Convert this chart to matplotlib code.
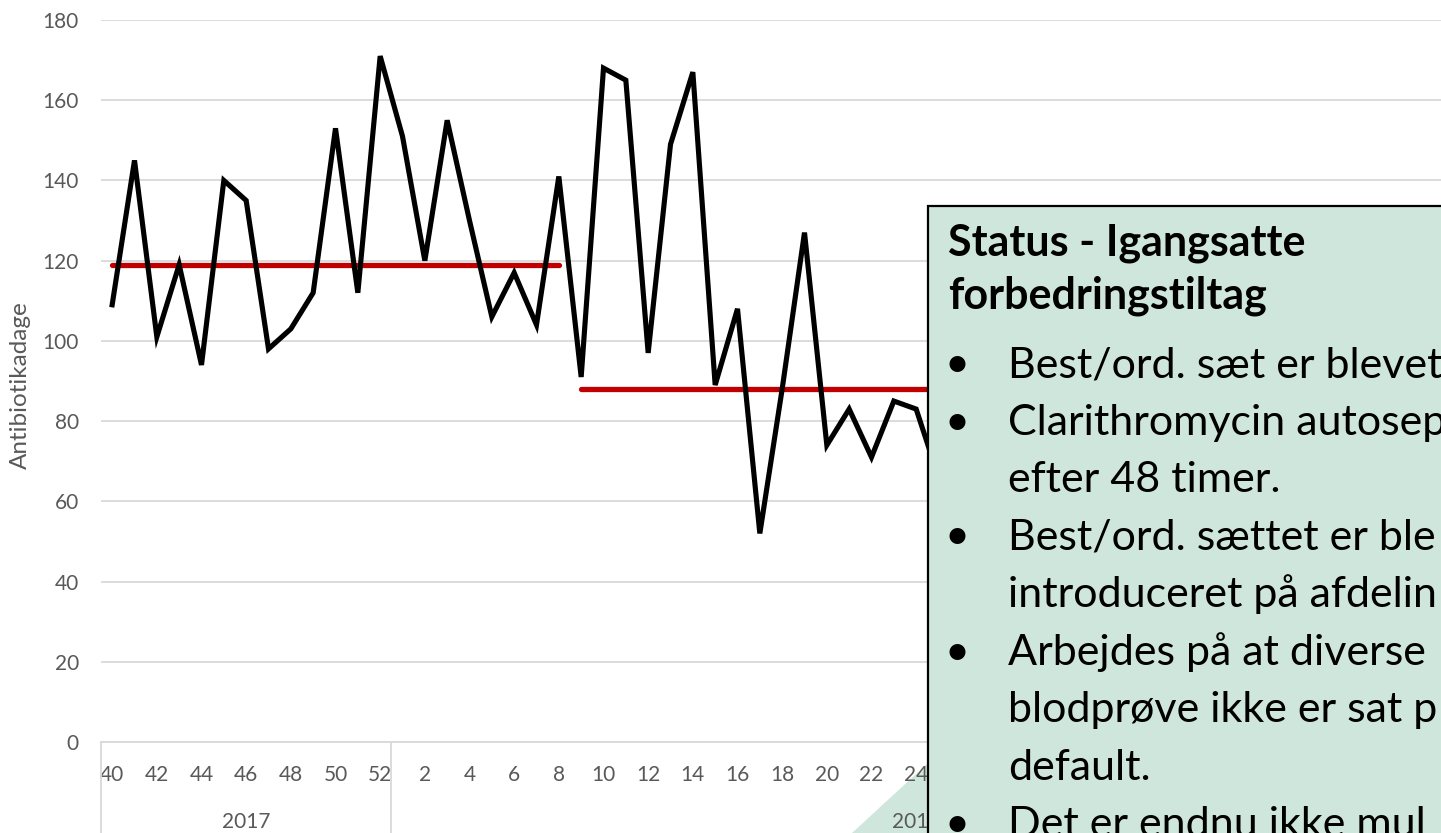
import matplotlib
matplotlib.use("Agg")
import matplotlib.pyplot as plt
import matplotlib.transforms as mtransforms
from matplotlib.patches import Rectangle, Polygon

# ---------------- data ----------------
weeks_2017 = [40, 41, 42, 43, 44, 45, 46, 47, 48, 49, 50, 51, 52]
values_2017 = [109, 145, 101, 119, 94, 140, 135, 98, 103, 112, 153, 112, 171]
weeks_2018 = [1, 2, 3, 4, 5, 6, 7, 8, 9, 10, 11, 12, 13, 14, 15, 16, 17, 18, 19, 20,
              21, 22, 23, 24, 25, 26, 27, 28, 29, 30, 31, 32, 33, 34, 35, 36, 37, 38,
              39, 40, 41, 42, 43, 44, 45, 46, 47]
values_2018 = [151, 120, 155, 130, 106, 117, 104, 141, 91, 168, 165, 97, 149, 167, 89,
               108, 52, 88, 127, 74, 83, 71, 85, 83, 66]
years = ["2017", "2018"]
# median segments: (year, first week, year, last week, value)
medians = [("2017", 40, "2018", 8, 119), ("2018", 9, "2018", 25, 88)]
y_ticks = [0, 20, 40, 60, 80, 100, 120, 140, 160, 180]
last_visible_label = ("2018", 24)
y_label = "Antibiotikadage"
box_title = ["Status - Igangsatte", "forbedringstiltag"]
box_lines = [("•", "Best/ord. sæt er blevet"),
             ("•", "Clarithromycin autosep"),
             ("", "efter 48 timer."),
             ("•", "Best/ord. sættet er ble"),
             ("", "introduceret på afdelin"),
             ("•", "Arbejdes på at diverse"),
             ("", "blodprøve ikke er sat p"),
             ("", "default."),
             ("•", "Det er endnu ikke mul")]

# ---------------- figure ----------------
W, H = 1441, 833
fig = plt.figure(figsize=(W / 100, H / 100), dpi=100)
FONT = "Lato"
GRID = "#D9D9D9"
TXT = "#595959"
FS = 15


def fx(px):
    return px / W


def fy(py):
    return 1 - py / H


ax_left, ax_right, ax_top, ax_bottom = 101, 1441, 20, 742
ax = fig.add_axes([fx(ax_left), fy(ax_bottom), (ax_right - ax_left) / W,
                   (ax_bottom - ax_top) / H])

cats = [("2017", w) for w in weeks_2017] + [("2018", w) for w in weeks_2018]
idx = {c: i for i, c in enumerate(cats)}
values = values_2017 + values_2018
xs = list(range(len(values)))

ax.plot(xs, values, color="black", lw=3.7, solid_joinstyle="miter", zorder=4)
for y0, w0, y1, w1, v in medians:
    i0, i1 = idx[(y0, w0)], idx[(y1, w1)]
    ax.plot([i0, i1], [v, v], color="#C00000", lw=3.8, solid_capstyle="round", zorder=3)

ax.set_xlim(-0.5, len(cats) - 0.5)
ax.set_ylim(0, 180)
ax.set_yticks(y_ticks)
ax.set_yticklabels([str(t) for t in y_ticks], fontfamily=FONT, fontsize=FS, color=TXT)
ax.tick_params(axis="y", length=0, pad=16)

even = [i for i in range(len(cats)) if i % 2 == 0 and i <= idx[last_visible_label]]
ax.set_xticks(even)
ax.set_xticklabels([str(cats[i][1]) for i in even], fontfamily=FONT, fontsize=FS, color=TXT)
ax.tick_params(axis="x", length=0, pad=28)
for lab in ax.get_xticklabels():
    lab.set_va("baseline")

ax.grid(axis="y", color=GRID, lw=1.3)
ax.set_axisbelow(True)
for s in ["top", "right", "left"]:
    ax.spines[s].set_visible(False)
ax.spines["bottom"].set_color(GRID)
ax.spines["bottom"].set_linewidth(1.3)

# multi-level category axis: year separators and labels
trans = mtransforms.blended_transform_factory(ax.transData, ax.transAxes)
bounds = [-0.5, len(weeks_2017) - 0.5, len(cats) - 0.5]
for b in bounds:
    ax.plot([b, b], [0, -0.2], color=GRID, lw=1.3, transform=trans, clip_on=False)
for k, yr in enumerate(years):
    cx = (bounds[k] + bounds[k + 1]) / 2
    ax.text(cx, (ax_bottom - 828) / (ax_bottom - ax_top), yr, transform=trans,
            ha="center", va="baseline", fontfamily=FONT, fontsize=FS, color=TXT)

fig.text(fx(20), fy(385), y_label, rotation=90, ha="center", va="center",
         fontfamily=FONT, fontsize=17.5, color=TXT)

# decorative shape behind the chart
fig.patches.append(Polygon([(fx(852), fy(833)), (fx(928), fy(763)), (fx(928), fy(833))],
                           closed=True, transform=fig.transFigure,
                           facecolor="#CFE6DC", edgecolor="none", zorder=-1))

# status text box
box = Rectangle((fx(928), fy(900)), fx(600), (900 - 206) / H, transform=fig.transFigure,
                facecolor="#CFE6DC", edgecolor="black", lw=1.6, zorder=10)
fig.patches.append(box)

for k, t in enumerate(box_title):
    fig.text(fx(948), fy(256 + 53 * k), t, fontfamily=FONT, fontweight="bold",
             fontsize=31, ha="left", va="baseline", zorder=11)
for k, (b, t) in enumerate(box_lines):
    yb = 377 + 57.5 * k
    if b:
        fig.text(fx(957), fy(yb), b, fontfamily=FONT, fontsize=31, ha="center",
                 va="baseline", zorder=11)
    fig.text(fx(1008), fy(yb), t, fontfamily=FONT, fontsize=31, ha="left",
             va="baseline", zorder=11)

fig.savefig("out.png", dpi=100)
